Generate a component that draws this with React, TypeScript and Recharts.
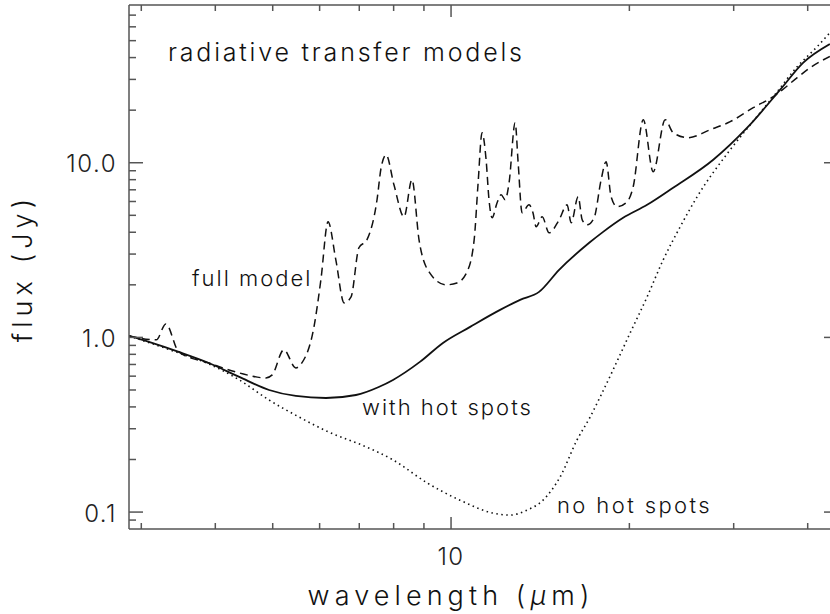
import { LineChart, Line, XAxis, YAxis } from 'recharts'

// wavelength (micron) / flux (Jy) samples
const fullLambda = [2.86, 3.18, 3.3, 3.47, 3.9, 4.39, 4.87, 4.99, 5.22, 5.47, 5.6, 5.87, 6.03, 6.2, 6.39, 6.6, 6.78, 6.99, 7.21, 7.5, 7.62, 7.77, 8.01, 8.33, 8.59, 8.83, 9.18, 9.81, 10.23, 10.64, 10.94, 11.11, 11.28, 11.46, 11.59, 11.73, 11.96, 12.15, 12.34, 12.53, 12.83, 12.98, 13.18, 13.54, 13.75, 13.92, 14.25, 14.64, 15.22, 15.7, 15.95, 16.39, 16.65, 16.97, 17.44, 17.92, 18.27, 18.63, 19.07, 19.83, 20.3, 21.11, 21.94, 22.99, 23.71, 25.13, 27.38, 29.6, 32.37, 34.99, 38.41, 40.41, 43.6]
const fullFlux = [1.02, 0.968, 1.195, 0.826, 0.714, 0.626, 0.586, 0.61, 0.848, 0.669, 0.714, 1.149, 2.14, 4.59, 2.78, 1.576, 1.707, 3.26, 3.62, 6.14, 9.36, 11.1, 7.48, 4.9, 7.99, 3.62, 2.37, 2.0, 2.05, 2.37, 3.62, 7.68, 14.85, 10.4, 6.14, 4.84, 5.9, 6.56, 6.14, 7.68, 16.95, 10.0, 5.17, 5.74, 5.17, 4.3, 4.9, 3.97, 4.71, 5.74, 4.53, 6.39, 4.71, 4.41, 4.84, 7.99, 10.13, 6.39, 5.6, 5.98, 7.29, 17.64, 8.88, 17.64, 14.85, 13.91, 15.46, 17.18, 20.66, 23.89, 30.69, 35.03, 40.6]

const hotLambda = [2.86, 3.09, 3.47, 3.9, 4.39, 4.93, 5.47, 6.15, 6.91, 7.55, 7.98, 8.86, 9.69, 10.77, 12.1, 13.08, 14.08, 15.22, 17.11, 18.06, 19.52, 21.43, 23.71, 27.71, 31.62, 35.95, 39.32, 43.6]
const hotFlux = [1.02, 0.942, 0.826, 0.714, 0.594, 0.5, 0.462, 0.45, 0.468, 0.52, 0.571, 0.724, 0.93, 1.149, 1.437, 1.64, 1.823, 2.437, 3.48, 4.02, 4.84, 5.74, 7.19, 10.4, 15.87, 26.2, 37.4, 47.8]

const coldLambda = [2.86, 3.47, 3.9, 4.39, 4.93, 5.54, 6.22, 7.07, 7.98, 9.11, 10.35, 11.77, 12.58, 13.44, 14.3, 15.28, 16.32, 17.17, 17.85, 18.77, 20.06, 21.43, 22.81, 24.37, 26.03, 29.6, 32.0, 34.99, 38.41, 41.5, 43.6]
const coldFlux = [1.02, 0.815, 0.705, 0.571, 0.438, 0.35, 0.287, 0.242, 0.199, 0.147, 0.117, 0.0987, 0.0961, 0.1027, 0.117, 0.159, 0.259, 0.35, 0.456, 0.651, 1.061, 1.707, 2.78, 4.3, 6.39, 11.87, 16.51, 23.89, 35.5, 46.2, 55.5]

const xTicks = [3, 4, 5, 6, 7, 8, 9, 10, 20, 30, 40]
const xMajor = [10]
const yTicks = [0.09, 0.1, 0.2, 0.3, 0.4, 0.5, 0.6, 0.7, 0.8, 0.9, 1, 2, 3, 4, 5, 6, 7, 8, 9, 10, 20, 30, 40, 50, 60, 70]
const yMajor = [0.1, 1, 10]
const yLabels = ['0.1', '1.0', '10.0']

const fullModel = fullLambda.map((x, i) => ({ x, y: fullFlux[i] }))
const withHotSpots = hotLambda.map((x, i) => ({ x, y: hotFlux[i] }))
const noHotSpots = coldLambda.map((x, i) => ({ x, y: coldFlux[i] }))

const FONT = 'Inter, "DejaVu Sans", sans-serif'
const AXIS = '#555'

function BottomTick({ x, y, payload }: any) {
  const major = xMajor.includes(payload.value)
  return (
    <g>
      <line x1={x} x2={x} y1={y} y2={y - (major ? 12 : 6)} stroke={AXIS} strokeWidth={1.5} />
      {major && (
        <text x={x} y={y + 27} textAnchor="middle" dominantBaseline="central" fontSize={24} fontWeight={300} fontFamily={FONT} fill="#222" letterSpacing={1.5}>
          {payload.value}
        </text>
      )}
    </g>
  )
}

function TopTick({ x, y, payload }: any) {
  const major = xMajor.includes(payload.value)
  return <line x1={x} x2={x} y1={y} y2={y + (major ? 12 : 6)} stroke={AXIS} strokeWidth={1.5} />
}

function LeftTick({ x, y, payload }: any) {
  const idx = yMajor.indexOf(payload.value)
  const major = idx >= 0
  return (
    <g>
      <line x1={x} x2={x + (major ? 14 : 7)} y1={y} y2={y} stroke={AXIS} strokeWidth={1.5} />
      {major && (
        <text x={x - 12} y={y + 1} textAnchor="end" dominantBaseline="central" fontSize={24} fontWeight={300} fontFamily={FONT} fill="#222" letterSpacing={1.5}>
          {yLabels[idx]}
        </text>
      )}
    </g>
  )
}

function RightTick({ x, y, payload }: any) {
  const major = yMajor.includes(payload.value)
  return <line x1={x} x2={x - (major ? 14 : 7)} y1={y} y2={y} stroke={AXIS} strokeWidth={1.5} />
}

const note: React.CSSProperties = {
  position: 'absolute',
  fontFamily: FONT,
  fontWeight: 300,
  fontSize: 22,
  letterSpacing: 2,
  lineHeight: 1,
  color: '#111',
  whiteSpace: 'nowrap',
  transform: 'translateY(-50%)',
}

const axisTitle: React.CSSProperties = { ...note, fontSize: 27, letterSpacing: 5.1 }

export default function App() {
  return (
    <div style={{ position: 'relative', width: 830, height: 614, overflow: 'hidden', background: '#fff' }}>
      <style>{'body{margin:0}'}</style>
      <LineChart width={840} height={614} margin={{ top: 4, right: 1, bottom: 84, left: 128 }}>
        <XAxis
          dataKey="x"
          type="number"
          scale="log"
          domain={[2.86, 45]}
          allowDataOverflow
          ticks={xTicks}
          interval={0}
          height={1}
          tickSize={0}
          tickMargin={0}
          tick={<BottomTick />}
          axisLine={{ stroke: AXIS, strokeWidth: 1.5 }}
        />
        <XAxis
          xAxisId="top"
          orientation="top"
          dataKey="x"
          type="number"
          scale="log"
          domain={[2.86, 45]}
          allowDataOverflow
          ticks={xTicks}
          interval={0}
          height={1}
          tickSize={0}
          tickMargin={0}
          tick={<TopTick />}
          axisLine={{ stroke: AXIS, strokeWidth: 1.5 }}
        />
        <YAxis
          dataKey="y"
          type="number"
          scale="log"
          domain={[0.08, 80]}
          allowDataOverflow
          ticks={yTicks}
          interval={0}
          width={1}
          tickSize={0}
          tickMargin={0}
          tick={<LeftTick />}
          axisLine={{ stroke: AXIS, strokeWidth: 1.5 }}
        />
        <YAxis
          yAxisId="right"
          orientation="right"
          type="number"
          scale="log"
          domain={[0.08, 80]}
          allowDataOverflow
          ticks={yTicks}
          interval={0}
          width={1}
          tickSize={0}
          tickMargin={0}
          tick={<RightTick />}
          axisLine={{ stroke: AXIS, strokeWidth: 1.5 }}
        />
        <Line data={noHotSpots} dataKey="y" type="monotone" stroke="#111" strokeWidth={1.6} strokeDasharray="1.5 3.5" dot={false} isAnimationActive={false} />
        <Line data={withHotSpots} dataKey="y" type="monotone" stroke="#111" strokeWidth={1.8} dot={false} isAnimationActive={false} />
        <Line data={fullModel} dataKey="y" type="monotone" stroke="#111" strokeWidth={1.5} strokeDasharray="8 5" dot={false} isAnimationActive={false} />
      </LineChart>
      <div style={{ ...note, left: 168, top: 52, fontSize: 25, letterSpacing: 2.8 }}>radiative transfer models</div>
      <div style={{ ...note, left: 192, top: 278 }}>full model</div>
      <div style={{ ...note, left: 362, top: 407 }}>with hot spots</div>
      <div style={{ ...note, left: 557, top: 505, letterSpacing: 2.4 }}>no hot spots</div>
      <div style={{ ...axisTitle, left: 22, top: 268, transform: 'translate(-50%, -50%) rotate(-90deg)' }}>flux (Jy)</div>
      <div style={{ ...axisTitle, left: 451, top: 595, transform: 'translate(-50%, -50%)' }}>
        wavelength (<i>μ</i>m)
      </div>
    </div>
  )
}
